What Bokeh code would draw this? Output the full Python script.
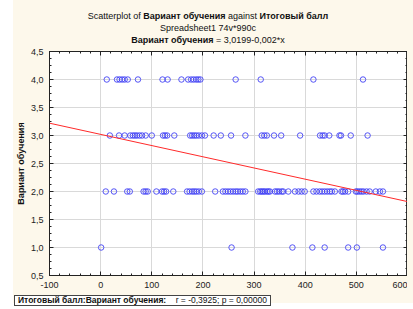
from bokeh.plotting import figure
from bokeh.models import (Div, LinearAxis, CustomJSTickFormatter, Range1d,
                          ColumnDataSource, SingleIntervalTicker)
from bokeh.layouts import column
from bokeh.embed import file_html
from bokeh.resources import INLINE

BG = "#fdf8eb"
FONT = "Liberation Sans"

# ---- data ----
score_v4 = [12, 32, 37, 42, 47, 53, 73, 121, 131, 158, 171, 177, 182, 187, 191,
            195, 264, 313, 416, 513]
score_v3 = [18, 36, 47, 58, 63, 67, 71, 76, 81, 88, 100, 122, 126, 130, 144, 175,
            179, 183, 187, 192, 198, 204, 221, 235, 255, 283, 315, 320, 325, 339,
            353, 390, 429, 434, 438, 447, 467, 470, 489, 522]
score_v2 = [10, 26, 52, 57, 84, 88, 92, 109, 120, 124, 128, 142, 169, 174, 179,
            183, 187, 192, 198, 224, 239, 244, 249, 254, 259, 264, 268, 273, 278,
            283, 308, 312, 315, 318, 321, 325, 328, 331, 341, 345, 349, 354, 357,
            367, 380, 387, 393, 399, 416, 422, 428, 433, 438, 443, 448, 452, 458,
            471, 474, 478, 484, 499, 502, 506, 510, 514, 520, 526, 538, 546, 552]
score_v1 = [1, 256, 375, 414, 438, 484, 501, 552]
variants = [4.0, 3.0, 2.0, 1.0]

intercept = 3.0199
slope = -0.002
r_text = "-0,3925"
p_text = "0,00000"
x_name = "Итоговый балл"
y_name = "Вариант обучения"
sheet = "Spreadsheet1 74v*990c"

x_lo, x_hi = -100, 600
y_lo, y_hi = 0.5, 4.5

groups = [score_v4, score_v3, score_v2, score_v1]
xs, ys = [], []
for g, v in zip(groups, variants):
    xs += g
    ys += [v] * len(g)
src = ColumnDataSource(dict(x=xs, y=ys))

line_x = [x_lo, x_hi]
line_y = [intercept + slope * x for x in line_x]

# ---- figure ----
p = figure(frame_width=358, frame_height=224, x_range=Range1d(x_lo, x_hi),
           y_range=Range1d(y_lo, y_hi), output_backend="svg",
           toolbar_location=None, min_border_left=49, min_border_right=0,
           min_border_top=5, min_border_bottom=16,
           background_fill_color="white", border_fill_color=None,
           outline_line_color="#333333", margin=(0, 0, 0, 0))

bottom_ax = p.below[0]
left_ax = p.left[0]
top_ax = LinearAxis()
right_ax = LinearAxis()
p.add_layout(top_ax, "above")
p.add_layout(right_ax, "right")

xt = SingleIntervalTicker(interval=100, num_minor_ticks=5)
yt = SingleIntervalTicker(interval=0.5, num_minor_ticks=4)
bottom_ax.ticker = xt
top_ax.ticker = xt
left_ax.ticker = yt
right_ax.ticker = yt

for ax in (bottom_ax, left_ax, top_ax, right_ax):
    ax.major_tick_in = 4
    ax.major_tick_out = 0
    ax.minor_tick_in = 2
    ax.minor_tick_out = 0
    ax.axis_line_color = "#222222"
    ax.major_tick_line_color = "#222222"
    ax.minor_tick_line_color = "#222222"
    ax.major_label_text_font = FONT
    ax.major_label_text_font_size = "9px"
    ax.major_label_text_color = "#222222"

bottom_ax.formatter = CustomJSTickFormatter(code="return tick.toFixed(0);")
left_ax.formatter = CustomJSTickFormatter(
    code="return tick.toFixed(1).replace('.', ',');")
bottom_ax.major_label_standoff = 6
left_ax.major_label_standoff = 6

# extra axes: ticks only
for ax in (top_ax, right_ax):
    ax.formatter = CustomJSTickFormatter(code="return '';")
    ax.major_label_text_font_size = "0px"
    ax.major_label_standoff = 0

left_ax.axis_label = y_name
left_ax.axis_label_text_font = FONT
left_ax.axis_label_text_font_size = "9px"
left_ax.axis_label_text_font_style = "bold"
left_ax.axis_label_text_color = "#111111"
left_ax.axis_label_standoff = 2

p.xgrid.ticker = xt
p.ygrid.ticker = yt
p.xgrid.grid_line_color = "#d9d9d9"
p.ygrid.grid_line_color = "#d9d9d9"

p.scatter("x", "y", source=src, size=5.5, marker="circle",
          fill_color=None, line_color="#3a3af5", line_alpha=0.85, line_width=1)
p.line(line_x, line_y, line_color="#ff2a2a", line_width=1)

# ---- title and legend ----
eq = f"{intercept}".replace(".", ",") + "-" + f"{abs(slope)}".replace(".", ",") + "*x"
title_html = (
    f'<div style="width:400px; text-align:center; padding-left:16px; padding-top:10px; '
    f'font-family:{FONT}; font-size:9px; line-height:12px; color:#111; white-space:nowrap;">'
    f'Scatterplot of <b>{y_name}</b> against <b>{x_name}</b><br>'
    f'{sheet}<br><b>{y_name}</b> = {eq}</div>'
)
title = Div(text=title_html, width=413, height=46, margin=(0, 0, 0, 0))

legend_html = (
    f'<div style="display:inline-block; margin-left:14px; '
    f'background:white; border:1px solid #444; padding:0 3px; font-family:{FONT}; '
    f'font-size:8.5px; line-height:9px; color:#111; white-space:nowrap;">'
    f'<b>{x_name}:{y_name}:</b>&nbsp;&nbsp;&nbsp; r = {r_text}; p = {p_text}</div>'
)
legend = Div(text=legend_html, width=413, height=12, margin=(0, 0, 0, 0))

layout = column(title, p, legend, spacing=0,
                styles={"background": f"linear-gradient(to right, white 13px, {BG} 13px)"})

open("out.html", "w").write(file_html(layout, INLINE))
